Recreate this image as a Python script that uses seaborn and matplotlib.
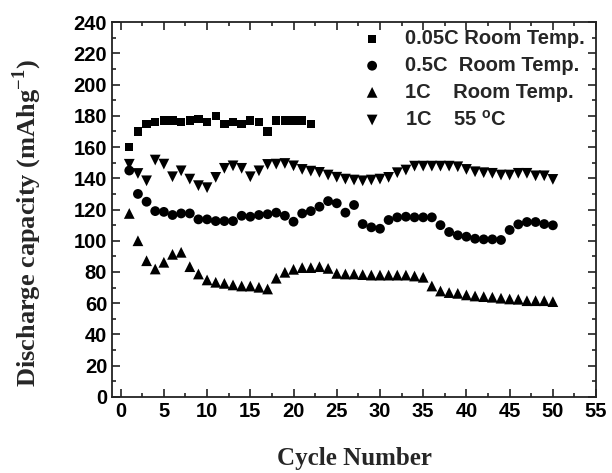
import numpy as np
import pandas as pd
import seaborn as sns
import matplotlib.pyplot as plt
from matplotlib.ticker import MultipleLocator

# discharge capacity (mAh/g) per cycle
cyc_005C = list(range(1, 23))
cap_005C = [160, 170, 175, 176, 177, 177, 176, 177, 178, 176, 180, 175,
            176, 175, 177, 176, 170, 177, 177, 177, 177, 175]

cyc_1C = list(range(1, 51))
cap_05C = [145, 130, 125, 119, 118.5, 116.5, 117.5, 117.5, 113.7, 113.7,
           112.6, 112.6, 112.6, 116, 115.4, 116.5, 117, 118, 116, 112.2,
           117.5, 119, 121.8, 125.4, 124, 118, 122.9, 110.7, 108.6, 107.7,
           113.3, 115, 115.4, 115, 115, 115, 110, 105.6, 103.5, 102.6,
           101.3, 100.9, 100.9, 100.5, 106.9, 110.5, 112, 112, 110.7, 109.9]
cap_1C = [117.5, 100, 87.2, 81.9, 86.2, 91.3, 92.6, 83.4, 78.7, 74.9,
          73.4, 72.7, 71.7, 71, 71, 70.2, 69.1, 76, 79.8, 81.7,
          82.8, 82.8, 83.4, 82.3, 79.1, 78.7, 78.7, 78.3, 78, 78,
          78, 78, 78, 77.4, 76.6, 71, 67.8, 66.8, 66.3, 65.3,
          64.6, 64.2, 63.8, 63.2, 62.7, 62.5, 61.6, 61.6, 61.6, 61]
cap_1C_55 = [149, 143.1, 138.4, 151.7, 149.1, 141, 144.8, 139.5, 135.3, 134,
             140.6, 146.4, 148, 146.4, 141, 144.8, 148.9, 149.1, 149.5, 148,
             145.7, 144.6, 143.8, 142.1, 140.7, 139.5, 138.9, 138.4, 138.9, 139.5,
             140.6, 143.6, 145.3, 147.8, 147.8, 147.8, 147.8, 147.8, 147.4, 145.7,
             144.2, 143.6, 143.2, 142.1, 142.1, 143.2, 143.2, 141.6, 141.6, 139.3]

labels = ["0.05C Room Temp.", "0.5C  Room Temp.", "1C    Room Temp.",
          "1C    55 $^{\\mathregular{o}}$C"]

sns.set_style("ticks")
plt.rcParams['font.family'] = ['Liberation Sans', 'DejaVu Sans']
plt.rcParams['font.weight'] = 'bold'

fig = plt.figure(figsize=(6.12, 4.73), dpi=100)
ax = fig.add_axes([0.183, 0.161, 0.791, 0.792])

series = [
    (cyc_005C, cap_005C, "s", 36),
    (cyc_1C, cap_05C, "o", 50),
    (cyc_1C, cap_1C, "^", 60),
    (cyc_1C, cap_1C_55, "v", 60),
]
for (x, y, m, s), lab in zip(series, labels):
    sns.scatterplot(x=x, y=y, marker=m, s=s, color="black", edgecolor="none",
                    linewidth=0, label=lab, ax=ax)

ax.set_xlim(-1, 55)
ax.set_ylim(0, 240)
ax.xaxis.set_major_locator(MultipleLocator(5))
ax.xaxis.set_minor_locator(MultipleLocator(2.5))
ax.yaxis.set_major_locator(MultipleLocator(20))
ax.yaxis.set_minor_locator(MultipleLocator(10))
ax.tick_params(which="both", direction="in", top=True, right=True,
               labelsize=14.5, width=1.2, colors="#222222", labelcolor="black")
ax.tick_params(which="major", length=6)
ax.tick_params(which="minor", length=3)
for t in ax.get_xticklabels() + ax.get_yticklabels():
    t.set_fontweight("bold")
for sp in ax.spines.values():
    sp.set_linewidth(1.3)
    sp.set_color("#222222")

serif = ['Liberation Serif', 'DejaVu Serif']
ax.set_xlabel("Cycle Number", fontsize=18, fontweight="bold", family=serif)
ax.set_ylabel("Discharge capacity (mAhg$^{\\mathregular{-1}}$)", fontsize=19,
              fontweight="bold", family=serif)
ax.xaxis.set_label_coords(0.5, -0.133)
ax.yaxis.set_label_coords(-0.14, 0.465)

leg = ax.legend(loc="upper left", bbox_to_anchor=(354 / 612, 0.955),
                bbox_transform=fig.transFigure, frameon=False,
                prop={"weight": "bold", "size": 14.5}, handlelength=1.0,
                handletextpad=1.15, labelspacing=0.38, borderaxespad=0)

fig.savefig("out.png", dpi=100)
